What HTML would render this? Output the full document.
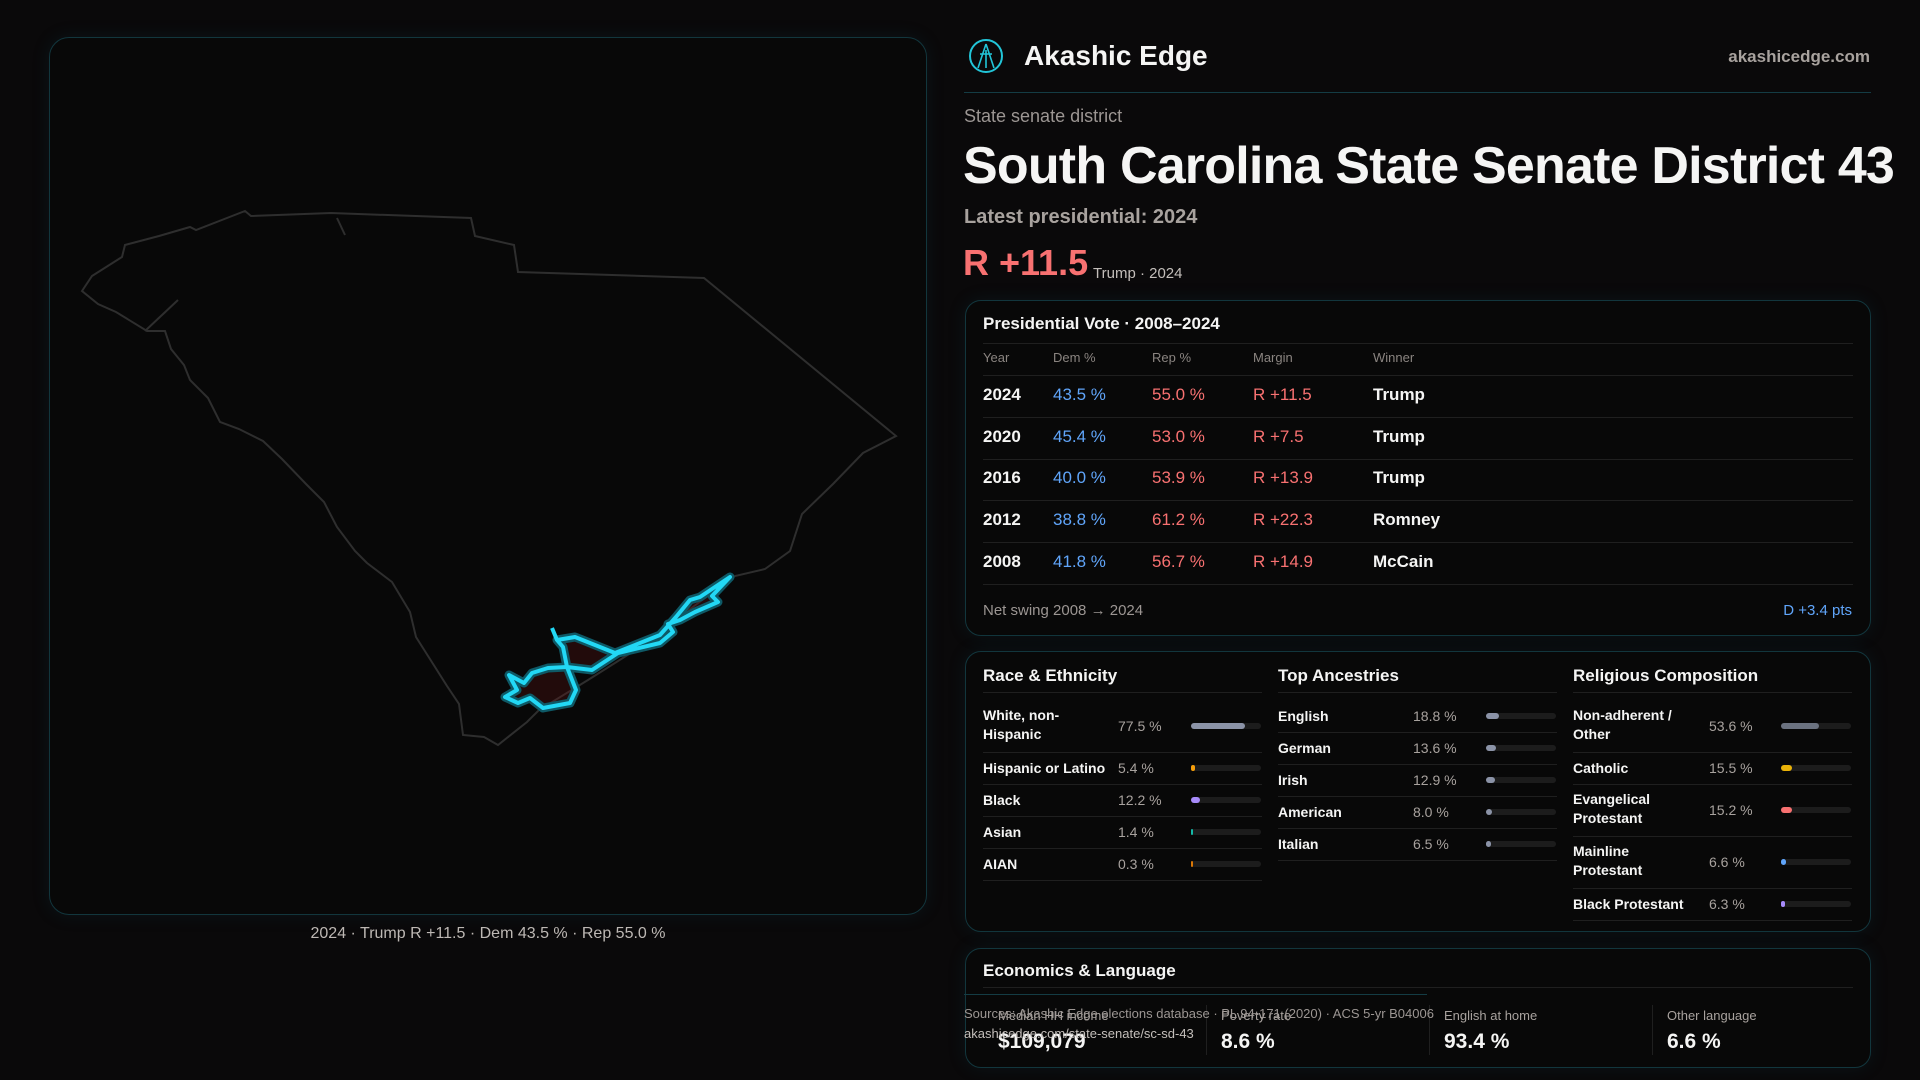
<!DOCTYPE html>
<html><head><meta charset="utf-8">
<style>
*{margin:0;padding:0;box-sizing:border-box}
html,body{width:1920px;height:1080px;overflow:hidden}
body{background:#0a090a;font-family:"Liberation Sans",sans-serif;color:#f5f5f4;position:relative}
.a{position:absolute;white-space:nowrap}
.card{position:absolute;border:1px solid #12363d;border-radius:16px;background:#080808;box-shadow:0 0 18px rgba(20,90,110,0.15)}
.muted{color:#9c9693}
.dem{color:#60a5fa}.rep{color:#f87171}
.hl{position:absolute;height:1px;background:#1f1f1f}
</style></head><body>
<div class="card" style="left:49px;top:37px;width:878px;height:878px;border-radius:20px"></div>
<svg class="a" style="left:0;top:0" width="960" height="960">
<g fill="none" stroke="#2e2e2e" stroke-width="2">
<polygon points="82,291 92,276 122,257 125,245 159,236 190,227 196,230 245,211 251,216 331,213 471,218 475,236 514,245 518,272 704,278 896,436 863,453 833,484 802,514 790,551 765,569 735,576 686,612 637,649 588,680 539,710 527,722 498,745 484,737 463,735 459,704 447,686 435,667 416,637 410,612 392,582 367,563 355,551 337,527 324,502 306,484 282,459 263,441 239,429 220,422 208,398 190,380 184,365 171,349 165,331 147,331 116,312 98,304"/>
<polyline points="337,218 345,235"/>
<polyline points="145,331 178,300"/>
</g>
<g>
<polygon points="730,577 712,596 718,602 695,612 680,620 668,624 673,632 660,643 618,653 592,670 567,667 576,690 570,703 543,708 530,698 518,703 505,697 517,690 509,675 524,683 532,673 548,668 567,667 563,647 557,640 575,637 615,653 660,635 676,617 690,600 700,597" fill="rgba(110,20,20,0.25)" stroke="#0e5966" stroke-width="9" stroke-linejoin="round"/>
<polygon points="730,577 712,596 718,602 695,612 680,620 668,624 673,632 660,643 618,653 592,670 567,667 576,690 570,703 543,708 530,698 518,703 505,697 517,690 509,675 524,683 532,673 548,668 567,667 563,647 557,640 575,637 615,653 660,635 676,617 690,600 700,597" fill="none" stroke="#22d8f5" stroke-width="4" stroke-linejoin="round"/>
<polyline points="557,640 552,628" stroke="#22d8f5" stroke-width="4"/>
</g>
</svg>
<div class="a muted" style="left:0;width:976px;text-align:center;top:925px;font-size:16px;color:#bdb8b4">2024 · Trump R +11.5 · Dem 43.5 % · Rep 55.0 %</div>

<svg class="a" style="left:968px;top:38px" width="36" height="36" viewBox="0 0 36 36"><circle cx="18" cy="18" r="16" fill="none" stroke="#22c5d8" stroke-width="2"/><path d="M18 6 L10 30 M18 6 L26 30 M12 16 H24 M18 12 V30" stroke="#22c5d8" stroke-width="1.6" fill="none"/></svg>
<div class="a" style="left:1024px;top:40px;font-size:28px;font-weight:bold">Akashic Edge</div>
<div class="a muted" style="right:50px;top:47px;font-size:17px;font-weight:bold;color:#a8a29e">akashicedge.com</div>
<div class="hl" style="left:964px;top:92px;width:907px;background:#143c44"></div>
<div class="a muted" style="left:964px;top:106px;font-size:18px">State senate district</div>
<div class="a" style="left:963px;top:136px;width:957px;overflow:hidden;font-size:52px;font-weight:bold;letter-spacing:-0.8px">South Carolina State Senate District 43</div>
<div class="a muted" style="left:964px;top:206px;font-size:20px;font-weight:bold;color:#a8a29e">Latest presidential: 2024</div>
<div class="a rep" style="left:963px;top:242px;font-size:36px;font-weight:bold">R +11.5</div>
<div class="a muted" style="left:1093px;top:265px;font-size:15px;color:#c4bfbb">Trump · 2024</div>

<div class="card" style="left:965px;top:300px;width:906px;height:336px"></div>
<div class="a" style="left:983px;top:314px;font-size:17px;font-weight:bold">Presidential Vote · 2008–2024</div>
<div class="hl" style="left:983px;top:343px;width:870px"></div>
<div id="ptable"></div>
<div class="a muted" style="left:983px;top:602px;font-size:15px">Net swing 2008 → 2024</div>
<div class="a dem" style="right:68px;top:602px;font-size:15px">D +3.4 pts</div>

<div class="card" style="left:965px;top:651px;width:906px;height:281px"></div>
<div id="demo"></div>

<div class="card" style="left:965px;top:948px;width:906px;height:120px"></div>
<div class="a" style="left:983px;top:961px;font-size:17px;font-weight:bold">Economics &amp; Language</div>
<div class="hl" style="left:983px;top:987px;width:870px"></div>
<div class="hl" style="left:964px;top:994px;width:463px;background:#143c44"></div>
<div id="econ"></div>
<div class="a muted" style="left:964px;top:1006px;font-size:13px">Sources: Akashic Edge elections database · PL 94-171 (2020) · ACS 5-yr B04006</div>
<div class="a muted" style="left:964px;top:1026px;font-size:13px;color:#c4bfbb">akashicedge.com/state-senate/sc-sd-43</div>

<script>
const years=["2024","2020","2016","2012","2008"];
const demPct=[43.5,45.4,40.0,38.8,41.8];
const repPct=[55.0,53.0,53.9,61.2,56.7];
const margins=["R +11.5","R +7.5","R +13.9","R +22.3","R +14.9"];
const winners=["Trump","Trump","Trump","Romney","McCain"];
const raceLabels=["White, non-Hispanic","Hispanic or Latino","Black","Asian","AIAN"];
const raceValues=[77.5,5.4,12.2,1.4,0.3];
const ancLabels=["English","German","Irish","American","Italian"];
const ancValues=[18.8,13.6,12.9,8.0,6.5];
const relLabels=["Non-adherent / Other","Catholic","Evangelical Protestant","Mainline Protestant","Black Protestant"];
const relValues=[53.6,15.5,15.2,6.6,6.3];
const econLabels=["Median HH income","Poverty rate","English at home","Other language"];
const econValues=["$109,079","8.6 %","93.4 %","6.6 %"];

function div(parent,css,txt){const d=document.createElement('div');d.className='a';d.style.cssText=css;if(txt!==undefined)d.textContent=txt;parent.appendChild(d);return d;}
const pt=document.getElementById('ptable');
const colX=[983,1053,1152,1253,1373];
["Year","Dem %","Rep %","Margin","Winner"].forEach((h,i)=>{const d=div(pt,`left:${colX[i]}px;top:350px;font-size:13px;color:#8a8480`,h);

});
const hl0=div(pt,'left:983px;top:375px;width:870px;height:1px;background:#1f1f1f');


years.forEach((y,i)=>{const top=385+i*41.7;
const cells=[[y,'#f5f5f4'],[demPct[i].toFixed(1)+' %','#60a5fa'],[repPct[i].toFixed(1)+' %','#f87171'],[margins[i],'#f87171'],[winners[i],'#f5f5f4']];
cells.forEach((c,j)=>{const d=div(pt,`left:${colX[j]}px;top:${top}px;font-size:17px;font-weight:${j==0||j==4?'bold':'normal'};color:${c[1]}`,c[0]);

});
const l=div(pt,`left:983px;top:${top+32}px;width:870px;height:1px;background:#1f1f1f`);

});

const demo=document.getElementById('demo');
const panels=[
 {t:"Race & Ethnicity",x:983,labels:raceLabels,vals:raceValues,cols:["#8b93a7","#f59e0b","#a78bfa","#14b8a6","#d97706"],wrap:[true,false,false,false,false]},
 {t:"Top Ancestries",x:1278,labels:ancLabels,vals:ancValues,cols:["#8b93a7","#8b93a7","#8b93a7","#8b93a7","#8b93a7"],wrap:[false,false,false,false,false]},
 {t:"Religious Composition",x:1573,labels:relLabels,vals:relValues,cols:["#6b7280","#eab308","#f87171","#60a5fa","#a78bfa"],wrap:[true,false,true,true,false]}];
panels.forEach((p,pi)=>{
 const t=div(demo,`left:${p.x}px;top:666px;font-size:17px;font-weight:bold`,p.t);
 
 
 const h=div(demo,`left:${p.x}px;top:692px;width:279px;height:1px;background:#1f1f1f`);
 
 
 let y=700;
 p.labels.forEach((lab,i)=>{
  const rh=p.wrap[i]?52:32;const cy=y+rh/2;
  const ld=div(demo,`left:${p.x}px;top:${cy-(p.wrap[i]?20:9)}px;font-size:14px;font-weight:bold;line-height:19px;white-space:normal;width:${pi==0?130:120}px`,lab);
  
  
  const vd=div(demo,`left:${p.x+(pi==2?136:135)}px;top:${cy-8}px;font-size:14px;color:#a8a29e`,p.vals[i].toFixed(1)+' %');
  
  
  const tr=div(demo,`left:${p.x+208}px;top:${cy-3}px;width:70px;height:6px;border-radius:3px;background:#1c1c1c`);
  
  
  const b=div(tr,`left:0;top:0;height:6px;border-radius:3px;background:${p.cols[i]};width:${Math.max(1.5,p.vals[i]/100*70)}px`);
  
  
  y+=rh;
  const sl=div(demo,`left:${p.x}px;top:${y}px;width:279px;height:1px;background:#1f1f1f`);
  
  
 });
});
const econ=document.getElementById('econ');
econLabels.forEach((l,i)=>{const x=983+i*223;
 if(i>0){const d=div(econ,`left:${x}px;top:1005px;width:1px;height:50px;background:#1f1f1f`);
 
 }
 const a=div(econ,`left:${x+15}px;top:1008px;font-size:13px;color:#a8a29e`,l);
 
 
 const v=div(econ,`left:${x+15}px;top:1030px;font-size:21px;font-weight:bold`,econValues[i]);
 
 
});
</script>
</body></html>
